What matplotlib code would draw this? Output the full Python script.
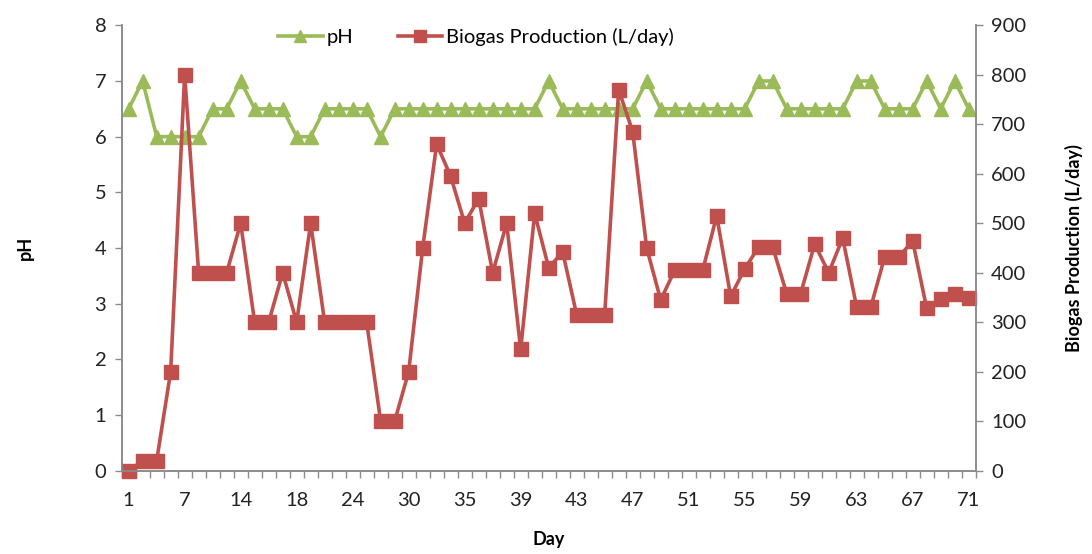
import matplotlib.pyplot as plt

plt.rcParams['font.family'] = ['Lato', 'DejaVu Sans']

# sampling days (only every 4th one is labelled on the axis)
days = [1, 3, 4, 5, 7, 9, 11, 12, 14, 15, 16, 17, 18, 20, 21, 23, 24, 25, 27, 28,
        30, 31, 32, 34, 35, 36, 37, 38, 39, 40, 41, 42, 43, 44, 45, 46, 47, 48, 49, 50,
        51, 52, 53, 54, 55, 56, 57, 58, 59, 60, 61, 62, 63, 64, 65, 66, 67, 68, 69, 70, 71]

ph = [6.5, 7, 6, 6, 6, 6, 6.5, 6.5, 7, 6.5, 6.5, 6.5, 6, 6, 6.5, 6.5, 6.5, 6.5, 6, 6.5,
      6.5, 6.5, 6.5, 6.5, 6.5, 6.5, 6.5, 6.5, 6.5, 6.5, 7, 6.5, 6.5, 6.5, 6.5, 6.5, 6.5, 7, 6.5, 6.5,
      6.5, 6.5, 6.5, 6.5, 6.5, 7, 7, 6.5, 6.5, 6.5, 6.5, 6.5, 7, 7, 6.5, 6.5, 6.5, 7, 6.5, 7, 6.5]

biogas = [0, 20, 20, 200, 800, 400, 400, 400, 500, 300, 300, 400, 300, 500, 300, 300, 300, 300, 100, 100,
          200, 450, 660, 595, 500, 550, 400, 500, 245, 520, 410, 442, 315, 315, 315, 770, 685, 450, 345, 405,
          405, 405, 515, 352, 408, 452, 452, 358, 358, 458, 400, 470, 330, 330, 432, 432, 464, 328, 346, 358, 348]

green = '#9BBB59'
red = '#C0504D'
axis_grey = '#8c8c8c'

x = list(range(len(days)))

fig = plt.figure(figsize=(10.92, 5.54), dpi=100)
ax = fig.add_axes([0.1114, 0.1504, 0.7821, 0.8039])
ax2 = ax.twinx()

ax.plot(x, ph, color=green, lw=2.6, marker='^', markersize=10.5, label='pH', clip_on=False)
ax2.plot(x, biogas, color=red, lw=2.6, marker='s', markersize=10,
         label='Biogas Production (L/day)', clip_on=False)

ax.set_xlim(-0.5, len(days) - 0.5)
ax.set_ylim(0, 8)
ax2.set_ylim(0, 900)
ax.set_yticks(range(0, 9))
ax2.set_yticks(range(0, 1000, 100))

# tick marks sit between categories, labels under every 4th point
ax.set_xticks([i - 0.5 for i in range(len(days) + 1)])
ax.set_xticklabels([])
ax.set_xticks(x[::4], minor=True)
ax.set_xticklabels([str(d) for d in days[::4]], minor=True)
ax.tick_params(axis='x', which='minor', length=0, pad=15, labelsize=14.5, labelcolor='#222222')
ax.tick_params(axis='x', which='major', length=5, color=axis_grey, width=1)

for a in (ax, ax2):
    a.spines['top'].set_visible(False)
    for s in ('left', 'right', 'bottom'):
        a.spines[s].set_color(axis_grey)
        a.spines[s].set_linewidth(1.2)
    a.tick_params(axis='y', length=5, color=axis_grey, width=1, labelsize=14.5, pad=6,
                  labelcolor='#222222')

ax.set_xlabel('Day', fontsize=13, fontweight='bold', labelpad=16)
ax.set_ylabel('pH', fontsize=13, fontweight='bold', labelpad=44)
ax2.set_ylabel('Biogas Production (L/day)', fontsize=13, fontweight='bold', labelpad=28)

h1, l1 = ax.get_legend_handles_labels()
h2, l2 = ax2.get_legend_handles_labels()
leg = ax2.legend(h1 + h2, l1 + l2, loc='upper center', bbox_to_anchor=(0.415, 1.035), ncol=2,
                 frameon=False, fontsize=14.5, handlelength=2.2, handletextpad=0.2,
                 columnspacing=2.2, markerscale=0.8)

fig.savefig('out.png', dpi=100)
